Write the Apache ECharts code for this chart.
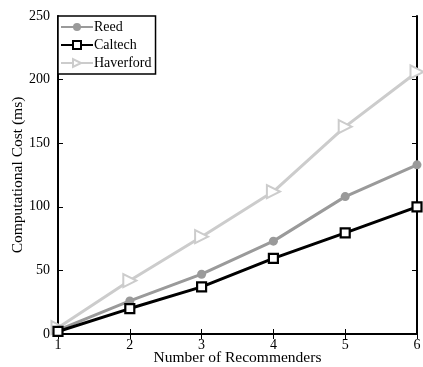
<!DOCTYPE html>
<html lang="en">
<head>
  <meta charset="UTF-8">
  <script src="https://cdn.jsdelivr.net/npm/echarts@6.0.0/dist/echarts.min.js"></script>
  <style>body{margin:0;background:#fff}</style>
</head>
<body>
  <div id="costChart" style="width: 423px;height:367px;"></div>
  <script type="text/javascript">
    var recommenders = [1, 2, 3, 4, 5, 6];
    var reed = [3, 26, 47, 73, 108, 133];
    var caltech = [2, 20, 37, 59.5, 79.5, 100];
    var haverford = [5, 42, 76.5, 112, 163, 206];
    var xTitle = 'Number of Recommenders';
    var yTitle = 'Computational Cost (ms)';

    function pairs(vals) {
        return recommenders.map(function (x, i) { return [x, vals[i]]; });
    }

    var font = 'Liberation Serif';
    var chart = echarts.init(document.getElementById('costChart'));

    var axisCommon = {
        axisLine: { show: true, lineStyle: { color: '#000', width: 2 } },
        axisTick: { show: true, inside: true, length: 5, lineStyle: { color: '#000' } },
        splitLine: { show: false }
    };

    var option = {
        animation: false,
        textStyle: { fontFamily: font },
        grid: { left: 58, right: 6, top: 16, bottom: 33, outerBoundsMode: 'none', containLabel: false },
        graphic: [
            {
                type: 'text', x: 237.5, y: 358,
                style: { text: xTitle, font: '15.5px "Liberation Serif"', fill: '#000', align: 'center', verticalAlign: 'middle' }
            },
            {
                type: 'text', x: 18, y: 175, rotation: Math.PI / 2,
                style: { text: yTitle, font: '15.5px "Liberation Serif"', fill: '#000', align: 'center', verticalAlign: 'middle' }
            }
        ],
        legend: {
            left: 58, top: 16,
            orient: 'vertical',
            backgroundColor: '#fff',
            borderColor: '#000',
            borderWidth: 1.5,
            borderRadius: 0,
            padding: [4, 4, 4, 2],
            itemGap: 4,
            itemWidth: 32,
            itemHeight: 10,
            textStyle: { fontFamily: font, fontSize: 14, color: '#000', padding: [0, 0, 0, -4] },
            data: ['Reed', 'Caltech', 'Haverford']
        },
        xAxis: [
            Object.assign({
                type: 'value', min: 1, max: 6, interval: 1,
                axisLabel: { fontFamily: font, fontSize: 14, color: '#000', margin: 4 }
            }, axisCommon),
            Object.assign({
                type: 'value', min: 1, max: 6, interval: 1, position: 'top',
                axisLabel: { show: false }
            }, axisCommon)
        ],
        yAxis: [
            Object.assign({
                type: 'value', min: 0, max: 250, interval: 50,
                axisLabel: { fontFamily: font, fontSize: 14, color: '#000', margin: 8 }
            }, axisCommon),
            Object.assign({
                type: 'value', min: 0, max: 250, interval: 50, position: 'right',
                axisLabel: { show: false }
            }, axisCommon)
        ],
        series: [
            {
                name: 'Reed', type: 'line', data: pairs(reed),
                symbol: 'circle', symbolSize: 9,
                lineStyle: { color: '#9a9a9a', width: 3 },
                itemStyle: { color: '#9a9a9a' },
                z: 3
            },
            {
                name: 'Caltech', type: 'line', data: pairs(caltech),
                symbol: 'rect', symbolSize: 9,
                lineStyle: { color: '#000', width: 3 },
                itemStyle: { color: '#fff', borderColor: '#000', borderWidth: 2.2 },
                z: 4
            },
            {
                name: 'Haverford', type: 'line', data: pairs(haverford),
                symbol: 'triangle', symbolSize: 13, symbolRotate: -90,
                lineStyle: { color: '#cccccc', width: 3 },
                itemStyle: { color: '#fff', borderColor: '#cccccc', borderWidth: 2 },
                z: 2
            }
        ]
    };

    chart.setOption(option);
  </script>
</body>
</html>
